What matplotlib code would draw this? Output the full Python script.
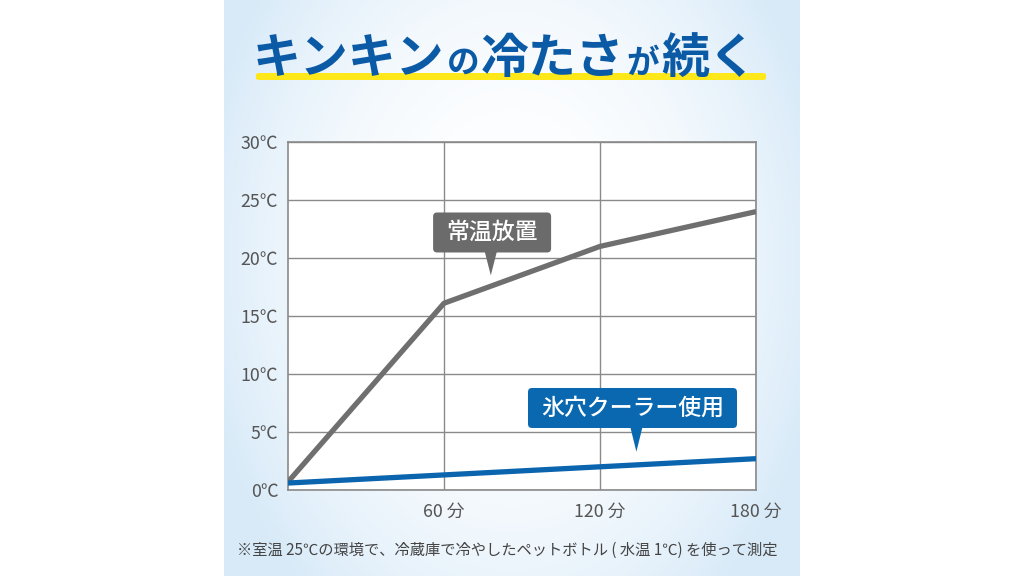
import numpy as np
import matplotlib
matplotlib.use("Agg")
import matplotlib.pyplot as plt
from matplotlib.patches import FancyBboxPatch, Polygon

plt.rcParams['font.family'] = ['Noto Sans CJK JP', 'DejaVu Sans']

# ---- data ----
minutes = [0, 60, 120, 180]
normal_temp = [0.7, 16.1, 21.0, 24.0]      # 常温放置
cooler_temp = [0.6, 1.3, 2.0, 2.7]         # 氷穴クーラー使用
y_ticks = [0, 5, 10, 15, 20, 25, 30]
y_labels = ['0℃', '5℃', '10℃', '15℃', '20℃', '25℃', '30℃']
x_ticks = [60, 120, 180]
x_labels = ['60 分', '120 分', '180 分']
title_parts = [('キンキン', 34.5), ('の', 23.5), ('冷たさ', 34.5), ('が', 23.5), ('続く', 34.5)]
label_normal = '常温放置'
label_cooler = '氷穴クーラー使用'
footnote = '※室温 25℃の環境で、冷蔵庫で冷やしたペットボトル ( 水温 1℃) を使って測定'

W, H = 1024, 576
fig = plt.figure(figsize=(W / 100, H / 100), dpi=100)
fig.patch.set_facecolor('white')

# ---- icy background panel ----
bg = fig.add_axes([224 / W, 0, 576 / W, 1])
bg.set_axis_off()
yy, xx = np.mgrid[0:1:200j, 0:1:200j]
d = np.sqrt(((xx - 0.5) / 0.55) ** 2 + ((yy - 0.45) / 0.75) ** 2)
t = np.clip(d, 0, 1) ** 2.2
c0 = np.array([1.0, 1.0, 1.0])
c1 = np.array([0.85, 0.92, 0.975])
img = c0[None, None, :] * (1 - t[..., None]) + c1[None, None, :] * t[..., None]
bg.imshow(img, extent=[0, 1, 0, 1], aspect='auto', origin='upper')
bg.set_xlim(0, 1)
bg.set_ylim(0, 1)

# ---- main axes ----
ax = fig.add_axes([288 / W, 86 / H, 468 / W, 348 / H])
ax.set_facecolor('white')
ax.set_xlim(0, 180)
ax.set_ylim(0, 30)
ax.set_xticks(x_ticks)
ax.set_xticklabels(x_labels)
ax.set_yticks(y_ticks)
ax.set_yticklabels(y_labels)
ax.tick_params(length=0, colors='#555555', labelsize=12.8)
ax.tick_params(axis='x', pad=9)
ax.tick_params(axis='y', pad=7)
for s in ax.spines.values():
    s.set_color('#8a8a8a')
    s.set_linewidth(1.2)
ax.grid(True, color='#8a8a8a', linewidth=1.0)
ax.set_axisbelow(True)

ax.plot(minutes, normal_temp, color='#6f6f6f', linewidth=3.8, solid_capstyle='butt', zorder=3)
ax.plot(minutes, cooler_temp, color='#0a64ae', linewidth=3.8, solid_capstyle='butt', zorder=4)

# ---- callouts ----
xpp = 180 / 468.0   # minutes per pixel
ypp = 30 / 348.0    # degrees per pixel


def callout(cx, cy, wpx, hpx, tip_x, tip_y, text, color, fs):
    w = wpx * xpp
    h = hpx * ypp
    box = FancyBboxPatch((cx - w / 2, cy - h / 2), w, h,
                         boxstyle='round,pad=0,rounding_size=%f' % (4 * xpp),
                         mutation_aspect=ypp / xpp,
                         facecolor=color, edgecolor='none', zorder=6)
    ax.add_patch(box)
    tri = Polygon([(tip_x - 6 * xpp, cy - h / 2 + 0.05), (tip_x + 6 * xpp, cy - h / 2 + 0.05),
                   (tip_x, tip_y)], closed=True, facecolor=color, edgecolor='none', zorder=6)
    ax.add_patch(tri)
    ax.text(cx, cy, text, color='white', fontsize=fs, ha='center', va='center',
            fontweight='medium', zorder=7)


callout(78.5, 22.2, 118, 40, 78.0, 18.5, label_normal, '#6b6b6b', 16.5)
callout(132.5, 7.07, 209, 40, 134.0, 3.3, label_cooler, '#0a68b0', 16.5)

# ---- title ----
fig.canvas.draw()
renderer = fig.canvas.get_renderer()
x = 253
base_y = H - 73
for txt, fs in title_parts:
    tt = fig.text(x / W, base_y / H, txt, fontsize=fs, fontweight='bold', color='#0b5aa6',
                  ha='left', va='baseline', zorder=5)
    ext = tt.get_window_extent(renderer)
    x = ext.x1 + 2
# underline
ul = FancyBboxPatch((256 / W, (H - 80) / H), 510 / W, 7 / H,
                    boxstyle='round,pad=0,rounding_size=0.003',
                    transform=fig.transFigure, facecolor='#ffe81a', edgecolor='none', zorder=4)
fig.patches.append(ul)

# ---- footnote ----
fig.text(507 / W, (H - 550) / H, footnote, fontsize=11.0, color='#444444', ha='center', va='center')

fig.savefig('out.png', dpi=100)
